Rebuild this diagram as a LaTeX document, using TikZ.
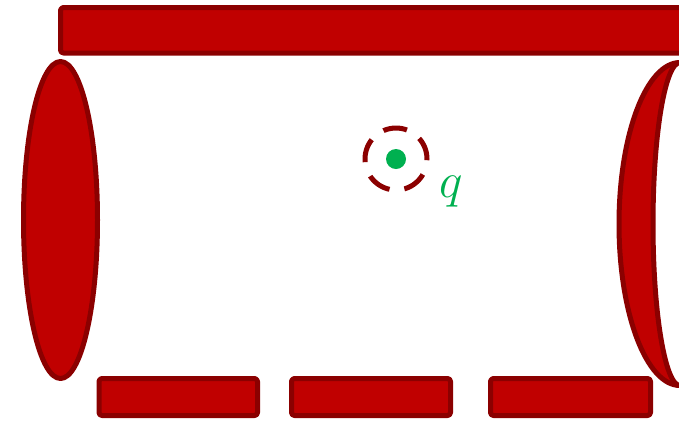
\documentclass[tikz,border=0pt]{standalone}
\definecolor{barred}{HTML}{C00000}
\definecolor{edgered}{HTML}{8B0000}
\definecolor{qgreen}{HTML}{00B050}
\tikzset{
    plate/.style={fill=barred,draw=edgered,line width=2.5pt,line join=round,rounded corners=1.5pt},
    lens/.style={fill=barred,draw=edgered,line width=2.5pt,line join=round}
}
\begin{document}
\begin{tikzpicture}[x=0.5pt,y=-0.5pt]
        \useasboundingbox (0,0) rectangle (679,420);
        \clip (0,0) rectangle (679,420);
        \filldraw[plate] (60.5,7.5) rectangle (720,53);
        \filldraw[lens] (60.5,220) ellipse (37 and 158.5);
        \filldraw[lens] (680,385.5) arc[start angle=90,end angle=270,x radius=61,y radius=161.5]
            arc[start angle=270,end angle=90,x radius=27,y radius=161.5] -- cycle;
        \foreach \xa/\xb in {99/257.5, 291.5/450.5, 490.5/650.5}{
            \filldraw[plate] (\xa,378.5) rectangle (\xb,415.5);
        }
        \draw[edgered,line width=2.5pt,dash pattern=on 12pt off 7.5pt,dash phase=11.4pt] (396,159) circle (31);
        \node[circle,fill=qgreen,minimum size=10pt,inner sep=0pt] (charge) at (396,159) {};
        \node[anchor=base west,text=qgreen,inner sep=0pt] (qlabel) at (439,197) {\fontsize{30}{35}\selectfont $q$};
    \end{tikzpicture}
\end{document}
